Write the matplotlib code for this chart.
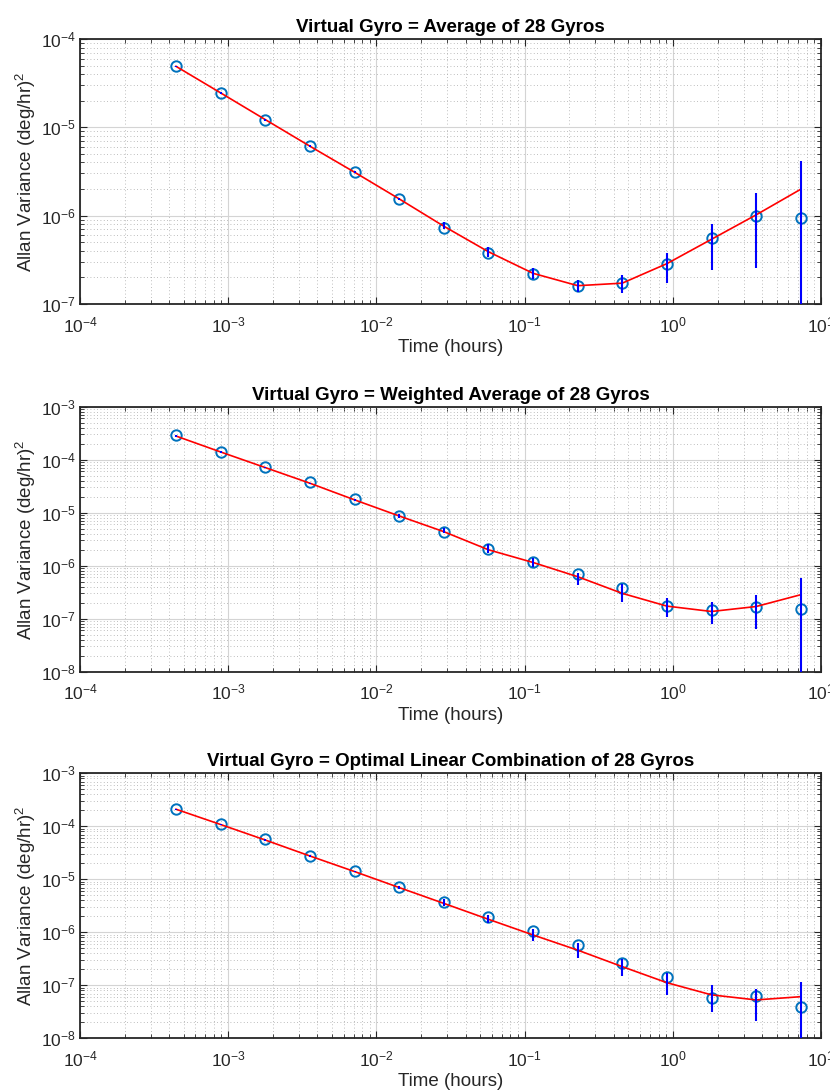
import numpy as np
import matplotlib
matplotlib.use('Agg')
import matplotlib.pyplot as plt
from matplotlib.ticker import LogLocator, NullFormatter

plt.rcParams['font.family'] = ['Liberation Sans', 'DejaVu Sans']
plt.rcParams['mathtext.fontset'] = 'custom'
plt.rcParams['mathtext.rm'] = 'Liberation Sans'
plt.rcParams['mathtext.it'] = 'Liberation Sans:italic'
plt.rcParams['mathtext.bf'] = 'Liberation Sans:bold'

# averaging time (hours)
tau = [0.000444, 0.000889, 0.00178, 0.00356, 0.00711, 0.0142, 0.0284, 0.0569,
       0.114, 0.228, 0.455, 0.910, 1.82, 3.64, 7.28]

# panel 1: plain average
avg_data = [5.0e-5, 2.43e-5, 1.2e-5, 6.14e-6, 3.12e-6, 1.54e-6, 7.24e-7, 3.74e-7,
            2.18e-7, 1.61e-7, 1.74e-7, 2.83e-7, 5.62e-7, 9.97e-7, 9.4e-7]
avg_fit = [4.9e-5, 2.45e-5, 1.22e-5, 6.1e-6, 3.1e-6, 1.55e-6, 7.6e-7, 3.9e-7,
           2.22e-7, 1.61e-7, 1.72e-7, 2.86e-7, 5.4e-7, 1.02e-6, 1.99e-6]
avg_hi = [5.0e-5, 2.5e-5, 1.25e-5, 6.25e-6, 3.2e-6, 1.6e-6, 8.47e-7, 4.45e-7,
          2.57e-7, 1.87e-7, 2.13e-7, 3.74e-7, 7.97e-7, 1.79e-6, 4.15e-6]
avg_lo = [4.8e-5, 2.4e-5, 1.19e-5, 5.95e-6, 3.0e-6, 1.5e-6, 7.05e-7, 3.37e-7,
          1.9e-7, 1.37e-7, 1.34e-7, 1.74e-7, 2.42e-7, 2.53e-7, 1e-10]

# panel 2: weighted average
wavg_data = [2.96e-4, 1.42e-4, 7.28e-5, 3.74e-5, 1.79e-5, 8.55e-6, 4.32e-6, 2.09e-6,
             1.16e-6, 6.87e-7, 3.74e-7, 1.76e-7, 1.44e-7, 1.66e-7, 1.55e-7]
wavg_fit = [2.8e-4, 1.4e-4, 7.1e-5, 3.6e-5, 1.75e-5, 8.7e-6, 4.4e-6, 2.0e-6,
            1.15e-6, 6.2e-7, 3.01e-7, 1.73e-7, 1.37e-7, 1.7e-7, 2.84e-7]
wavg_hi = [2.87e-4, 1.44e-4, 7.3e-5, 3.7e-5, 1.82e-5, 9.3e-6, 5.2e-6, 2.56e-6,
           1.38e-6, 7.2e-7, 4.5e-7, 2.42e-7, 2.03e-7, 2.8e-7, 5.9e-7]
wavg_lo = [2.73e-4, 1.36e-4, 6.9e-5, 3.5e-5, 1.68e-5, 8.1e-6, 4.1e-6, 1.76e-6,
           9.3e-7, 4.3e-7, 2.1e-7, 1.09e-7, 7.9e-8, 6.3e-8, 1e-10]

# panel 3: optimal linear combination
opt_data = [2.15e-4, 1.11e-4, 5.69e-5, 2.75e-5, 1.42e-5, 7.16e-6, 3.68e-6, 1.92e-6,
            1.04e-6, 5.76e-7, 2.6e-7, 1.42e-7, 5.84e-8, 6.28e-8, 3.95e-8]
opt_fit = [2.1e-4, 1.08e-4, 5.5e-5, 2.75e-5, 1.4e-5, 7.0e-6, 3.52e-6, 1.76e-6,
           8.9e-7, 4.6e-7, 2.25e-7, 1.12e-7, 6.6e-8, 5.3e-8, 6.1e-8]
opt_hi = [2.15e-4, 1.11e-4, 5.65e-5, 2.85e-5, 1.46e-5, 7.4e-6, 4.2e-6, 2.12e-6,
          1.14e-6, 6.2e-7, 3.1e-7, 1.73e-7, 1.01e-7, 8.4e-8, 1.17e-7]
opt_lo = [2.05e-4, 1.05e-4, 5.35e-5, 2.65e-5, 1.35e-5, 6.7e-6, 3.1e-6, 1.48e-6,
          6.95e-7, 3.23e-7, 1.5e-7, 6.6e-8, 3.18e-8, 2.15e-8, 1e-10]

titles = ['Virtual Gyro = Average of 28 Gyros',
          'Virtual Gyro = Weighted Average of 28 Gyros',
          'Virtual Gyro = Optimal Linear Combination of 28 Gyros']
ylims = [(1e-7, 1e-4), (1e-8, 1e-3), (1e-8, 1e-3)]
panels = [(avg_data, avg_fit, avg_lo, avg_hi),
          (wavg_data, wavg_fit, wavg_lo, wavg_hi),
          (opt_data, opt_fit, opt_lo, opt_hi)]
bottoms = [0.7214, 0.3843, 0.0483]

fig = plt.figure(figsize=(8.3, 10.91), dpi=100)
ink = '#262626'

for i in range(3):
    data, fit, lo, hi = [np.array(a) for a in panels[i]]
    ax = fig.add_axes([0.0964, bottoms[i], 0.893, 0.2429])
    ax.set_xscale('log')
    ax.set_yscale('log')

    ax.plot(tau, data, 'o', mfc='none', mec='#0072BD', mew=1.4, ms=7.5, zorder=3)
    ax.plot(tau, fit, '-', color='red', lw=1.2, zorder=4)
    err = np.vstack([fit - lo, hi - fit])
    ax.errorbar(tau, fit, yerr=err, fmt='none', ecolor='blue', elinewidth=1.5,
                capsize=0, zorder=5)

    ax.set_xlim(1e-4, 1e1)
    ax.set_ylim(*ylims[i])
    ax.xaxis.set_major_locator(LogLocator(base=10, numticks=20))
    ax.xaxis.set_minor_locator(LogLocator(base=10, subs=np.arange(2, 10), numticks=20))
    ax.yaxis.set_major_locator(LogLocator(base=10, numticks=20))
    ax.yaxis.set_minor_locator(LogLocator(base=10, subs=np.arange(2, 10), numticks=20))
    ax.xaxis.set_minor_formatter(NullFormatter())
    ax.yaxis.set_minor_formatter(NullFormatter())

    ax.grid(True, which='major', color='#d4d4d4', lw=0.8, ls='-')
    ax.grid(True, which='minor', color='#a8a8a8', lw=0.6, ls=(0, (1, 3)))
    ax.set_axisbelow(True)

    ax.tick_params(which='both', direction='in', top=True, right=True,
                   colors=ink, labelsize=12.5)
    ax.tick_params(axis='x', which='major', pad=8)
    ax.tick_params(axis='y', which='major', pad=3)
    ax.tick_params(which='major', length=5, width=0.8)
    ax.tick_params(which='minor', length=3, width=0.6)
    for s in ax.spines.values():
        s.set_color(ink)
        s.set_linewidth(1.3)

    ax.set_title(titles[i], fontsize=13.5, fontweight='bold', color='black', pad=5)
    ax.set_xlabel('Time (hours)', fontsize=13.5, color=ink, labelpad=3)
    ax.set_ylabel('Allan Variance (deg/hr)$^2$', fontsize=13.5, color=ink, labelpad=2)

fig.savefig('out.png', dpi=100, facecolor='white')
